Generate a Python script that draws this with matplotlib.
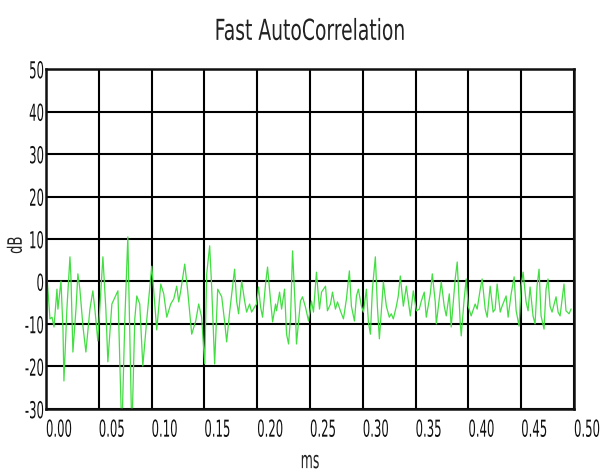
import matplotlib
matplotlib.use("Agg")
import matplotlib.pyplot as plt
from matplotlib.patheffects import AbstractPathEffect
from matplotlib.transforms import Affine2D

# autocorrelation trace: lag (ms) and level (dB)
lag_ms = [
    0.0000, 0.0009, 0.0038, 0.0057, 0.0076, 0.0104, 0.0113, 0.0142, 0.0161, 0.0170,
    0.0198, 0.0227, 0.0236, 0.0255, 0.0284, 0.0302, 0.0321, 0.0350, 0.0378, 0.0416,
    0.0444, 0.0463, 0.0491, 0.0520, 0.0539, 0.0567, 0.0586, 0.0624, 0.0681, 0.0718,
    0.0747, 0.0775, 0.0813, 0.0841, 0.0860, 0.0888, 0.0917, 0.0955, 0.1002, 0.1049,
    0.1087, 0.1115, 0.1144, 0.1181, 0.1210, 0.1238, 0.1257, 0.1276, 0.1314, 0.1342,
    0.1380, 0.1418, 0.1446, 0.1474, 0.1503, 0.1522, 0.1550, 0.1569, 0.1597, 0.1626,
    0.1664, 0.1692, 0.1711, 0.1739, 0.1786, 0.1805, 0.1824, 0.1853, 0.1881, 0.1900,
    0.1928, 0.1947, 0.1975, 0.1994, 0.2013, 0.2032, 0.2051, 0.2079, 0.2098, 0.2127,
    0.2146, 0.2174, 0.2183, 0.2212, 0.2231, 0.2259, 0.2278, 0.2297, 0.2316, 0.2335,
    0.2363, 0.2372, 0.2410, 0.2429, 0.2457, 0.2486, 0.2514, 0.2533, 0.2561, 0.2590,
    0.2609, 0.2647, 0.2665, 0.2694, 0.2713, 0.2741, 0.2760, 0.2788, 0.2817, 0.2845,
    0.2873, 0.2892, 0.2921, 0.2940, 0.2958, 0.2987, 0.3006, 0.3034, 0.3053, 0.3072,
    0.3091, 0.3119, 0.3138, 0.3157, 0.3195, 0.3223, 0.3251, 0.3270, 0.3289, 0.3318,
    0.3336, 0.3355, 0.3384, 0.3412, 0.3450, 0.3478, 0.3507, 0.3535, 0.3554, 0.3582,
    0.3601, 0.3639, 0.3658, 0.3686, 0.3696, 0.3724, 0.3743, 0.3771, 0.3790, 0.3819,
    0.3837, 0.3875, 0.3894, 0.3922, 0.3932, 0.3960, 0.3979, 0.3998, 0.4026, 0.4064,
    0.4083, 0.4112, 0.4130, 0.4159, 0.4178, 0.4206, 0.4234, 0.4253, 0.4272, 0.4301,
    0.4319, 0.4357, 0.4376, 0.4405, 0.4433, 0.4452, 0.4480, 0.4499, 0.4518, 0.4546,
    0.4565, 0.4584, 0.4612, 0.4631, 0.4650, 0.4669, 0.4688, 0.4716, 0.4735, 0.4754,
    0.4773, 0.4792, 0.4830, 0.4849, 0.4868, 0.4905, 0.4924, 0.4953, 0.4972,
]
level_db = [
    14.7, 1.3, -8.8, -8.4, -10.7, -1.8, -6.5, 0.1, -11.2, -23.4,
    -6.5, 5.8, 1.3, -16.6, -6.5, 1.8, -1.8, -10.5, -16.6, -6.5,
    -2.2, -6.5, -14.0, -1.8, 5.8, -6.5, -18.9, -5.3, -2.2, -36.0,
    -8.8, 10.5, -36.0, -8.8, -3.4, -5.3, -19.9, -8.8, 3.6, -11.4,
    -0.6, -2.9, -8.4, -5.3, -4.1, -1.1, -4.8, -2.2, 4.1, -2.2,
    -12.4, -9.3, -5.3, -8.4, -19.4, 1.8, 8.4, -1.3, -19.4, -1.8,
    -3.6, -9.5, -14.2, -7.2, 2.9, -4.6, -7.6, 0.1, -4.6, -7.2,
    -5.3, -7.2, -6.0, -5.3, -1.3, -6.0, -8.4, -0.6, 3.4, -4.6,
    -9.5, -5.3, -6.9, -2.5, -6.5, -1.8, -12.4, -14.7, -8.4, 7.2,
    -7.6, -14.7, -4.6, -3.6, -6.0, -9.3, -4.6, -7.2, 2.2, -6.5,
    -2.5, -1.1, -6.9, -5.3, -2.5, -6.5, -4.8, -6.9, -8.8, -4.1,
    2.5, -5.8, -9.3, -3.4, -1.8, -5.8, -7.2, -1.8, -9.5, -12.4,
    -1.8, 5.8, -5.8, -13.5, -0.1, -5.8, -8.4, -7.6, -8.8, -5.8,
    -3.4, 1.3, -5.8, -1.1, -8.1, -2.2, -6.9, -6.5, -4.6, -2.5,
    -8.4, -2.9, 1.8, -4.8, -10.0, -4.1, -0.1, -5.8, -8.1, -2.9,
    -10.7, 0.6, 4.6, -9.5, -12.8, -4.1, 0.6, -5.8, -8.1, -5.3,
    -6.5, -1.8, 0.6, -6.5, -8.4, -1.1, -7.2, -6.5, -0.6, -7.2,
    -5.8, -3.4, -8.4, -2.9, 1.1, -6.9, -10.5, -1.1, 2.2, -4.8,
    -6.9, -1.3, -8.1, -10.0, -1.1, 2.9, -8.1, -11.2, -1.8, 0.6,
    -5.8, -7.2, -3.6, -7.2, -8.1, -0.6, -6.9, -7.6, -6.5,
]

x_ticks = [0.00, 0.05, 0.10, 0.15, 0.20, 0.25, 0.30, 0.35, 0.40, 0.45, 0.50]
y_ticks = [-30, -20, -10, 0, 10, 20, 30, 40, 50]


class Tall(AbstractPathEffect):
    """Stretch glyphs across the text direction, keeping the laid-out width."""

    def __init__(self, sy=1.8, anchor="baseline"):
        super().__init__()
        self.sy = sy
        self.anchor = anchor

    def draw_path(self, renderer, gc, tpath, affine, rgbFace=None):
        ext = tpath.get_extents()
        y0 = {"baseline": 0.0, "bottom": ext.y0,
              "center": 0.5 * (ext.y0 + ext.y1), "top": ext.y1}[self.anchor]
        stretch = Affine2D().translate(0, -y0).scale(1, self.sy).translate(0, y0)
        renderer.draw_path(gc, tpath, stretch + affine, rgbFace)


fig = plt.figure(figsize=(6.01, 4.77), dpi=100)
ax = fig.add_axes([0.0765, 0.1405, 0.8786, 0.7127])

ax.plot(lag_ms, level_db, color="#42de42", lw=0.9)

ax.set_xlim(0, 0.5)
ax.set_ylim(-30, 50)
ax.set_xticks(x_ticks, labels=[f"{t:.2f}" for t in x_ticks], ha="left")
ax.set_yticks(y_ticks, labels=[str(t) for t in y_ticks])
ax.tick_params(axis="both", length=0, labelsize=8.4, colors="#111111")
ax.tick_params(axis="x", pad=6.5)
ax.tick_params(axis="y", pad=1.5)
ax.grid(True, color="black", lw=1.5)
for side in ax.spines.values():
    side.set_linewidth(1.8)
    side.set_color("#111111")

for lab in ax.get_xticklabels():
    lab.set_path_effects([Tall(2.0, "top")])
for lab in ax.get_yticklabels():
    lab.set_path_effects([Tall(2.0, "center")])

xl = ax.set_xlabel("ms", fontsize=9, color="#222222")
ax.xaxis.set_label_coords(0.5, -0.126)
xl.set_path_effects([Tall(1.9, "top")])

yl = ax.set_ylabel("dB", fontsize=9.5, color="#222222")
ax.yaxis.set_label_coords(-0.040, 0.482)
yl.set_path_effects([Tall(1.5, "bottom")])

title = ax.set_title("Fast AutoCorrelation", fontsize=13.5, pad=21, color="#222222")
title.set_path_effects([Tall(1.54, "baseline")])

fig.savefig("out.png", dpi=100)
plt.close(fig)
